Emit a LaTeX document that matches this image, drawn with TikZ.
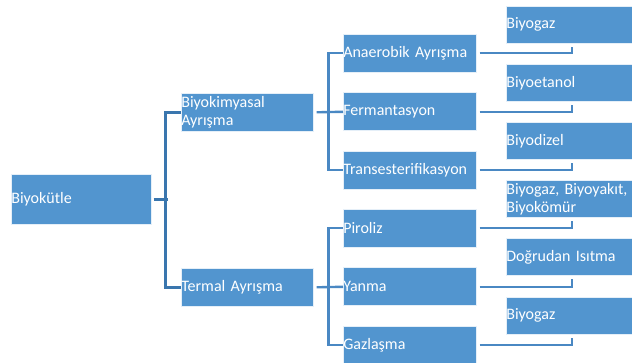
\documentclass[tikz,border=0pt]{standalone}
\usepackage{fontspec}
\setmainfont{Carlito}
\definecolor{boxfill}{HTML}{5295CF}
\definecolor{connA}{HTML}{3A76AE}
\definecolor{connB}{HTML}{4A88C3}
\tikzset{
  box/.style={fill=boxfill, draw=white!85!boxfill, line width=0.6pt, text=white,
    anchor=north west, align=left, inner xsep=0pt, inner ysep=0pt,
    font=\fontsize{16}{17.5}\selectfont},
  conna/.style={draw=connA, line width=2.6pt},
  connb/.style={draw=connB, line width=2.4pt},
}
\begin{document}
\begin{tikzpicture}[x=1pt,y=-1pt]
\useasboundingbox (0,0) rectangle (632,363);
\clip (0,0) rectangle (632,363);
% level 0
\node[box, text width=140pt, minimum height=50pt] (bk) at (11,174) {Biyokütle};
% level 1
\node[box, text width=132pt, minimum height=38pt] (bc) at (181,93) {Biyokimyasal\\Ayrışma};
\node[box, text width=132pt, minimum height=38pt] (ta) at (181,268) {Termal Ayrışma};
% level 2
\node[box, text width=133pt, minimum height=38pt] (an) at (343,34) {Anaerobik Ayrışma};
\node[box, text width=133pt, minimum height=38pt] (fe) at (343,92.5) {Fermantasyon};
\node[box, text width=133pt, minimum height=38pt] (tr) at (343,151) {Transesterifikasyon};
\node[box, text width=133pt, minimum height=38pt] (pi) at (343,209) {Piroliz};
\node[box, text width=133pt, minimum height=38pt] (ya) at (343,267.5) {Yanma};
\node[box, text width=133pt, minimum height=38pt] (ga) at (343,326) {Gazlaşma};
% level 3
\node[box, text width=130pt, minimum height=37pt] (o1) at (506,6) {Biyogaz};
\node[box, text width=130pt, minimum height=37pt] (o2) at (506,64) {Biyoetanol};
\node[box, text width=130pt, minimum height=37pt] (o3) at (506,122.5) {Biyodizel};
\node[box, text width=130pt, minimum height=37pt] (o4) at (506,180.5) {Biyogaz, Biyoyakıt,\\Biyokömür};
\node[box, text width=130pt, minimum height=37pt] (o5) at (506,238.5) {Doğrudan Isıtma};
\node[box, text width=130pt, minimum height=37pt] (o6) at (506,297) {Biyogaz};
% connectors level 0 -> 1
\draw[conna] ([xshift=2pt]bk.east) -- ([xshift=16pt]bk.east);
\draw[conna] (bc.west) -| ([xshift=14pt]bk.east) |- (ta.west);
% connectors level 1 -> 2
\draw[connb] ([xshift=3pt]bc.east) -- (fe.west);
\draw[connb] (an.west) -| ([xshift=15pt]bc.east) |- (tr.west);
\draw[connb] ([xshift=3pt]ta.east) -- (ya.west);
\draw[connb] (pi.west) -| ([xshift=15pt]ta.east) |- (ga.west);
% connectors level 2 -> 3
\draw[connb] ([xshift=3pt]an.east) -| ([xshift=66pt,yshift=-3pt]o1.south west);
\draw[connb] ([xshift=3pt]fe.east) -| ([xshift=66pt,yshift=-3pt]o2.south west);
\draw[connb] ([xshift=3pt]tr.east) -| ([xshift=66pt,yshift=-3pt]o3.south west);
\draw[connb] ([xshift=3pt]pi.east) -| ([xshift=66pt,yshift=-3pt]o4.south west);
\draw[connb] ([xshift=3pt]ya.east) -| ([xshift=66pt,yshift=-3pt]o5.south west);
\draw[connb] ([xshift=3pt]ga.east) -| ([xshift=66pt,yshift=-3pt]o6.south west);
\end{tikzpicture}
\end{document}
